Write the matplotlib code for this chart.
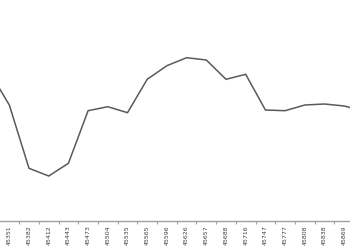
import matplotlib
matplotlib.use('Agg')
import matplotlib.pyplot as plt
import numpy as np

# Datas (serial do Excel, fim de mês) - o primeiro e o último ficam fora do recorte
datas = [45322, 45351, 45382, 45412, 45443, 45473, 45504, 45535, 45565, 45596,
         45626, 45657, 45688, 45716, 45747, 45777, 45808, 45838, 45869, 45900]
valores = [149, 116, 52.7, 45, 57.7, 110.3, 114.3, 108.3, 141.7, 155.3,
           163.3, 161, 141.7, 146.7, 111, 110.3, 116, 117, 115, 110]

x = np.arange(len(datas)) - 1   # posição 0 = 45351

fig = plt.figure(figsize=(3.5, 2.5), dpi=100)
ax = fig.add_axes([0, 29 / 250, 1, 221 / 250])
ax.plot(x, valores, color='#5a5a5a', linewidth=1.1, solid_joinstyle='miter')

for s in ['top', 'left', 'right']:
    ax.spines[s].set_visible(False)
ax.spines['bottom'].set_color('#a0a0a0')
ax.spines['bottom'].set_linewidth(1.0)

ax.set_yticks([])
ax.set_xticks(x)
ax.set_xticklabels([str(d) for d in datas], rotation=90, fontsize=4.5, color='#404040')
ax.set_xticks(x - 0.5, minor=True)
ax.tick_params(axis='x', which='major', length=0, pad=3)
ax.tick_params(axis='x', which='minor', length=2, color='#a0a0a0', width=0.8)

# limites depois dos ticks (set_xticks expande a vista)
ax.set_xlim(-9.3 / 19.7, (350 - 9.3) / 19.7)
ax.set_ylim(0, 221)

fig.savefig('out.png', dpi=100)
